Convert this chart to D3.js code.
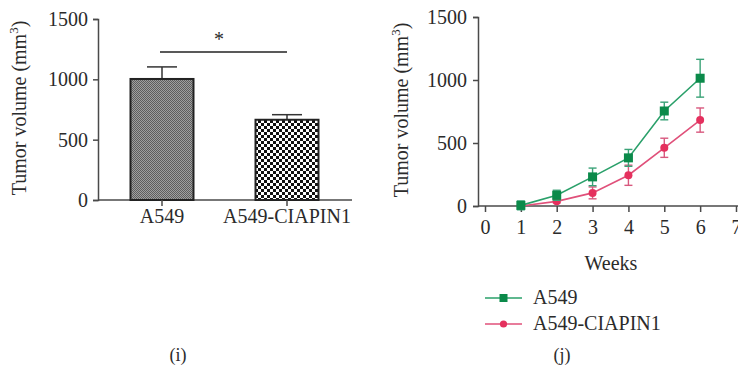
<!DOCTYPE html>
<html>
<head>
<meta charset="utf-8">
<script src="https://cdn.jsdelivr.net/npm/d3@7"></script>
<style>
  body { margin: 0; background: #fff; }
  svg { display: block; font-family: "Liberation Serif", "Times New Roman", serif; }
</style>
</head>
<body>
<svg id="chart" width="738" height="372"></svg>
<script>
// panel (i): bar chart
const barGroups = ["A549", "A549-CIAPIN1"];
const barMeans = [1003, 665];
const barErrs = [100, 42];

// panel (j): growth curves
const weeks = [1, 2, 3, 4, 5, 6];
const a549Mean = [5, 85, 231, 382, 754, 1014];
const a549Err = [35, 40, 70, 67, 70, 150];
const ciapinMean = [0, 37, 104, 244, 462, 682];
const ciapinErr = [8, 12, 47, 80, 76, 96];
const xTicks = [0, 1, 2, 3, 4, 5, 6, 7];
const yTicks = [0, 500, 1000, 1500];

const svg = d3.select("#chart");
const axisCol = "#4a4a4a";
const textCol = "#2b2b2b";
const fs = 20;

// patterns for the bars
const defs = svg.append("defs");
const fine = defs.append("pattern").attr("id", "fine")
  .attr("width", 2).attr("height", 2).attr("patternUnits", "userSpaceOnUse");
fine.append("rect").attr("width", 2).attr("height", 2).attr("fill", "#a0a0a0");
fine.append("rect").attr("width", 1).attr("height", 1).attr("fill", "#5e5e5e");
fine.append("rect").attr("x", 1).attr("y", 1).attr("width", 1).attr("height", 1).attr("fill", "#5e5e5e");

const check = defs.append("pattern").attr("id", "check")
  .attr("width", 6).attr("height", 6).attr("patternUnits", "userSpaceOnUse");
check.append("rect").attr("width", 6).attr("height", 6).attr("fill", "#fff");
check.append("rect").attr("width", 3).attr("height", 3).attr("fill", "#111");
check.append("rect").attr("x", 3).attr("y", 3).attr("width", 3).attr("height", 3).attr("fill", "#111");

// ---------- left panel ----------
const L = { x0: 98, x1: 352, yTop: 19, yBot: 200 };
const yL = d3.scaleLinear().domain([0, 1500]).range([L.yBot, L.yTop]);
const xL = d3.scalePoint().domain(barGroups).range([162, 287]);
const barW = 63;

const gl = svg.append("g");
const yAxL = gl.append("g").attr("transform", `translate(${L.x0},0)`)
  .call(d3.axisLeft(yL).tickValues(yTicks).tickFormat(d3.format("d")).tickSize(5).tickPadding(5));
yAxL.select(".domain").attr("stroke", axisCol).attr("stroke-width", 1.5);
yAxL.selectAll(".tick line").attr("stroke", axisCol).attr("stroke-width", 1.5);
yAxL.selectAll("text").attr("font-size", fs).attr("fill", textCol).attr("font-family", "Liberation Serif");

gl.append("line").attr("x1", L.x0).attr("x2", L.x1).attr("y1", L.yBot).attr("y2", L.yBot)
  .attr("stroke", axisCol).attr("stroke-width", 1.5);

barGroups.forEach((g, i) => {
  const cx = xL(g);
  gl.append("line").attr("x1", cx).attr("x2", cx).attr("y1", yL(barMeans[i])).attr("y2", yL(barMeans[i] + barErrs[i]))
    .attr("stroke", "#333").attr("stroke-width", 1.5);
  gl.append("line").attr("x1", cx - 15).attr("x2", cx + 15)
    .attr("y1", yL(barMeans[i] + barErrs[i])).attr("y2", yL(barMeans[i] + barErrs[i]))
    .attr("stroke", "#333").attr("stroke-width", 1.5);
  gl.append("rect").attr("x", cx - barW / 2).attr("width", barW)
    .attr("y", yL(barMeans[i])).attr("height", yL(0) - yL(barMeans[i]))
    .attr("fill", i === 0 ? "url(#fine)" : "url(#check)")
    .attr("stroke", "#222").attr("stroke-width", 2);
  gl.append("line").attr("x1", cx).attr("x2", cx).attr("y1", L.yBot).attr("y2", L.yBot + 6)
    .attr("stroke", axisCol).attr("stroke-width", 1.5);
  gl.append("text").attr("x", cx).attr("y", 223).attr("text-anchor", "middle")
    .attr("font-size", fs).attr("fill", textCol).text(g);
});

// significance
gl.append("line").attr("x1", 160).attr("x2", 287).attr("y1", 52).attr("y2", 52)
  .attr("stroke", "#222").attr("stroke-width", 1.3);
gl.append("text").attr("x", 219).attr("y", 46).attr("text-anchor", "middle")
  .attr("font-size", fs).attr("fill", textCol).text("*");

function yTitle(g, x, cy) {
  const t = g.append("text").attr("transform", `translate(${x},${cy}) rotate(-90)`)
    .attr("text-anchor", "middle").attr("font-size", fs).attr("fill", textCol);
  t.append("tspan").text("Tumor volume (mm");
  t.append("tspan").attr("font-size", 13).attr("dy", -8).text("3");
  t.append("tspan").attr("dy", 8).text(")");
}
yTitle(gl, 26, 108);

svg.append("text").attr("x", 178).attr("y", 361).attr("text-anchor", "middle")
  .attr("font-size", 18).attr("fill", textCol).text("(i)");

// ---------- right panel ----------
const R = { x0: 478, x1: 738, yTop: 17, yBot: 206 };
const x = d3.scaleLinear().domain([0, 7]).range([485, 736]);
const y = d3.scaleLinear().domain([0, 1500]).range([R.yBot, R.yTop]);

const gr = svg.append("g");
const yAxR = gr.append("g").attr("transform", `translate(${R.x0},0)`)
  .call(d3.axisLeft(y).tickValues(yTicks).tickFormat(d3.format("d")).tickSize(5).tickPadding(6));
yAxR.select(".domain").attr("stroke", axisCol).attr("stroke-width", 1.5);
yAxR.selectAll(".tick line").attr("stroke", axisCol).attr("stroke-width", 1.5);
yAxR.selectAll("text").attr("font-size", fs).attr("fill", textCol).attr("font-family", "Liberation Serif");

const xAxR = gr.append("g").attr("transform", `translate(0,${R.yBot})`)
  .call(d3.axisBottom(x).tickValues(xTicks).tickFormat(d3.format("d")).tickSize(6).tickPadding(8));
xAxR.select(".domain").remove();
xAxR.selectAll(".tick line").attr("stroke", axisCol).attr("stroke-width", 1.5);
xAxR.selectAll("text").attr("font-size", fs).attr("fill", textCol).attr("font-family", "Liberation Serif");
gr.append("line").attr("x1", R.x0).attr("x2", R.x1).attr("y1", R.yBot).attr("y2", R.yBot)
  .attr("stroke", axisCol).attr("stroke-width", 1.5);

const series = [
  { name: "A549", mean: a549Mean, err: a549Err, line: "#2aa06a", mark: "#0b8a4a", errCol: "#3aa277", shape: "square" },
  { name: "A549-CIAPIN1", mean: ciapinMean, err: ciapinErr, line: "#e0507a", mark: "#e5305e", errCol: "#d8587e", shape: "circle" }
];
const line = d3.line().x((d, i) => x(weeks[i])).y(d => y(d));

// draw red first so green sits on top like the original
series.slice().reverse().forEach(s => {
  const g = gr.append("g");
  g.append("path").datum(s.mean).attr("d", line).attr("fill", "none")
    .attr("stroke", s.line).attr("stroke-width", 1.6);
  weeks.forEach((w, i) => {
    const cx = x(w), lo = y(s.mean[i] - s.err[i]), hi = y(s.mean[i] + s.err[i]);
    g.append("line").attr("x1", cx).attr("x2", cx).attr("y1", lo).attr("y2", hi)
      .attr("stroke", s.errCol).attr("stroke-width", 1.4);
    [lo, hi].forEach(yy => g.append("line").attr("x1", cx - 4).attr("x2", cx + 4)
      .attr("y1", yy).attr("y2", yy).attr("stroke", s.errCol).attr("stroke-width", 1.4));
    if (s.shape === "square") {
      g.append("rect").attr("x", cx - 4.5).attr("y", y(s.mean[i]) - 4.5).attr("width", 9).attr("height", 9)
        .attr("fill", s.mark);
    } else {
      g.append("circle").attr("cx", cx).attr("cy", y(s.mean[i])).attr("r", 4).attr("fill", s.mark);
    }
  });
});

yTitle(gr, 408, 110);

gr.append("text").attr("x", 611).attr("y", 270).attr("text-anchor", "middle")
  .attr("font-size", fs).attr("fill", textCol).text("Weeks");

// legend
series.forEach((s, i) => {
  const ly = 298 + i * 26;
  gr.append("line").attr("x1", 485).attr("x2", 522).attr("y1", ly).attr("y2", ly)
    .attr("stroke", s.line).attr("stroke-width", 1.6);
  if (s.shape === "square") {
    gr.append("rect").attr("x", 503.5 - 4).attr("y", ly - 4).attr("width", 8).attr("height", 8).attr("fill", s.mark);
  } else {
    gr.append("circle").attr("cx", 503.5).attr("cy", ly).attr("r", 3.6).attr("fill", s.mark);
  }
  gr.append("text").attr("x", 533).attr("y", ly + 6).attr("font-size", fs).attr("fill", textCol).text(s.name);
});

svg.append("text").attr("x", 562).attr("y", 361).attr("text-anchor", "middle")
  .attr("font-size", 18).attr("fill", textCol).text("(j)");
</script>
</body>
</html>
